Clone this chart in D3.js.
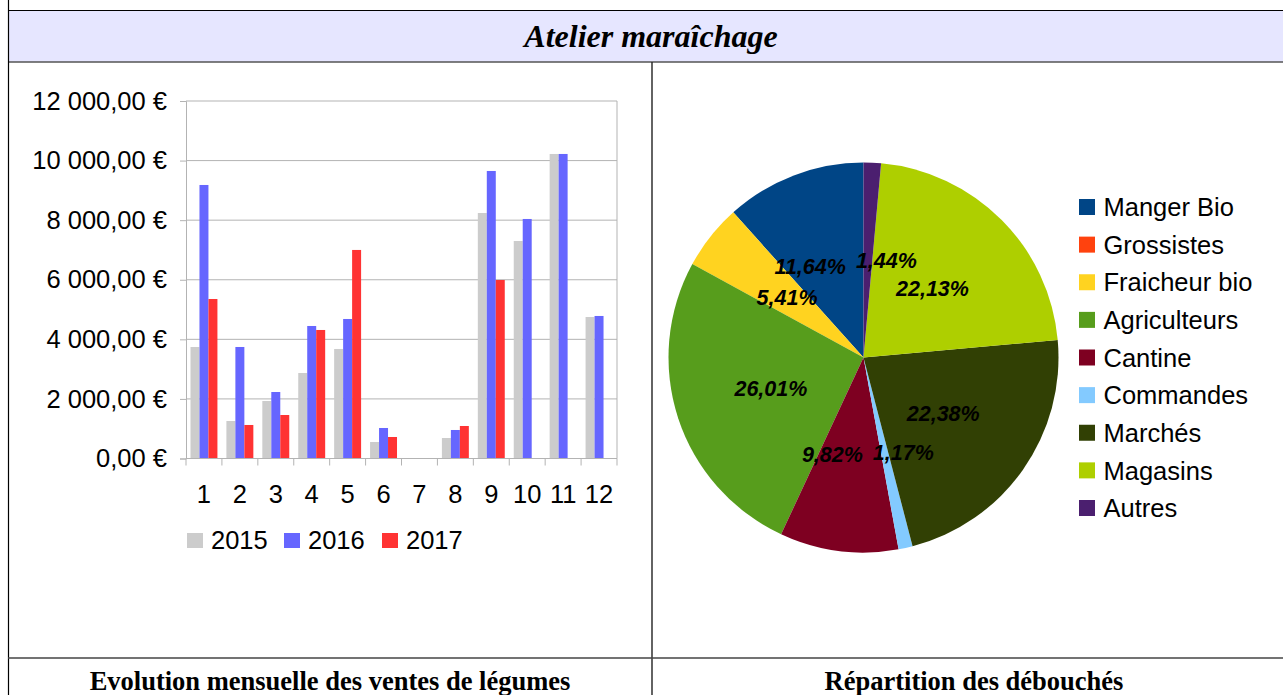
<!DOCTYPE html>
<html>
<head>
<meta charset="utf-8">
<script src="https://cdn.jsdelivr.net/npm/d3@7/dist/d3.min.js"></script>
<style>
    body { margin: 0; background: #fff; }
    svg text { font-family: "Liberation Sans", Arial, sans-serif; fill: #000; }
    svg text.serif { font-family: "Liberation Serif", "Times New Roman", serif; font-weight: bold; }
    .axis path, .axis line { stroke: #b3b3b3; }
    .grid line { stroke: #b3b3b3; }
</style>
</head>
<body>
<svg id="chart" width="1283" height="695"></svg>
<script>
    // data
    const months = [1, 2, 3, 4, 5, 6, 7, 8, 9, 10, 11, 12];
    const years = ["2015", "2016", "2017"];
    const sales2015 = [3743, 1259, 1930, 2870, 3676, 554, 0, 688, 8241, 7301, 10222, 4750];
    const sales2016 = [9181, 3743, 2232, 4448, 4683, 1024, 0, 957, 9651, 8040, 10222, 4784];
    const sales2017 = [5354, 1125, 1460, 4314, 7000, 722, 0, 1091, 5992, 0, 0, 0];
    const yTicks = [0, 2000, 4000, 6000, 8000, 10000, 12000];

    const outlets = ["Manger Bio", "Grossistes", "Fraicheur bio", "Agriculteurs", "Cantine",
                     "Commandes", "Marchés", "Magasins", "Autres"];
    const shares = [11.64, 0, 5.41, 26.01, 9.82, 1.17, 22.38, 22.13, 1.44];

    const titles = {
        main: "Atelier maraîchage",
        left: "Evolution mensuelle des ventes de légumes",
        right: "Répartition des débouchés"
    };

    const yearColors = ["#cccccc", "#6666ff", "#ff3333"];
    const outletColors = ["#004586", "#ff420e", "#ffd320", "#579d1c", "#7e0021",
                          "#83caff", "#314004", "#aecf00", "#4b1f6f"];

    const fr = d3.formatLocale({decimal: ",", thousands: "\u00a0", grouping: [3], currency: ["", " €"]});
    const euro = fr.format("$,.2f");
    const pct = v => fr.format(".2f")(v) + "%";

    const svg = d3.select("#chart");
    const labelSize = 25.5;

    // ---- table frame ----
    svg.append("rect").attr("x", 8).attr("y", 10).attr("width", 1290).attr("height", 52)
        .attr("fill", "#e6e6ff");
    svg.append("line").attr("x1", 8).attr("x2", 1283).attr("y1", 10.5).attr("y2", 10.5)
        .attr("stroke", "#000").attr("stroke-width", 1.2);
    svg.append("line").attr("x1", 8).attr("x2", 1283).attr("y1", 62).attr("y2", 62)
        .attr("stroke", "#555").attr("stroke-width", 1.6);
    svg.append("line").attr("x1", 8.5).attr("x2", 8.5).attr("y1", 0).attr("y2", 695)
        .attr("stroke", "#000").attr("stroke-width", 1.2);
    svg.append("line").attr("x1", 652).attr("x2", 652).attr("y1", 62).attr("y2", 695)
        .attr("stroke", "#222").attr("stroke-width", 1.4);
    svg.append("line").attr("x1", 8).attr("x2", 1283).attr("y1", 658).attr("y2", 658)
        .attr("stroke", "#444").attr("stroke-width", 1.6);

    svg.append("text").attr("class", "serif").attr("x", 651).attr("y", 47)
        .attr("text-anchor", "middle").attr("font-size", 32).attr("font-style", "italic")
        .text(titles.main);
    svg.append("text").attr("class", "serif").attr("x", 330).attr("y", 690)
        .attr("text-anchor", "middle").attr("font-size", 26.5).text(titles.left);
    svg.append("text").attr("class", "serif").attr("x", 974).attr("y", 690)
        .attr("text-anchor", "middle").attr("font-size", 26.5).text(titles.right);

    // ---- bar chart ----
    const plot = {left: 186, right: 617, top: 101, bottom: 458.5};
    const x0 = d3.scaleBand().domain(months).range([plot.left, plot.right]).padding(0);
    const x1 = d3.scaleBand().domain(years).range([0, x0.bandwidth()]).paddingInner(0).paddingOuter(0.5);
    const y = d3.scaleLinear().domain([0, 12000]).range([plot.bottom, plot.top]);
    const series = [sales2015, sales2016, sales2017];

    const bars = svg.append("g");

    bars.append("g").attr("class", "grid")
        .selectAll("line").data(yTicks).join("line")
        .attr("x1", plot.left).attr("x2", plot.right)
        .attr("y1", d => y(d)).attr("y2", d => y(d));

    bars.append("line").attr("x1", plot.right).attr("x2", plot.right)
        .attr("y1", plot.top).attr("y2", plot.bottom).attr("stroke", "#b3b3b3");

    const yAxis = bars.append("g").attr("class", "axis")
        .attr("transform", `translate(${plot.left},0)`)
        .call(d3.axisLeft(y).tickValues(yTicks).tickFormat(euro).tickSize(6).tickPadding(13));
    yAxis.selectAll("text").attr("font-size", labelSize).attr("fill", "#000");

    bars.append("g").selectAll("g").data(months).join("g")
        .attr("transform", d => `translate(${x0(d)},0)`)
        .selectAll("rect")
        .data((m, i) => years.map((yr, k) => ({year: yr, k: k, value: series[k][i]})))
        .join("rect")
        .attr("x", d => x1(d.year))
        .attr("width", x1.bandwidth())
        .attr("y", d => y(d.value))
        .attr("height", d => y(0) - y(d.value))
        .attr("fill", d => yearColors[d.k]);

    const xAxis = bars.append("g").attr("class", "axis")
        .attr("transform", `translate(0,${plot.bottom})`)
        .call(d3.axisBottom(x0).tickSize(0).tickPadding(26));
    xAxis.selectAll("text").attr("font-size", labelSize).attr("fill", "#000");
    xAxis.select(".domain").attr("d", `M${plot.left},0H${plot.right}`);
    xAxis.selectAll("line.sep").data(months.concat([null])).join("line")
        .attr("class", "sep")
        .attr("x1", (d, i) => i < months.length ? x0(d) : plot.right)
        .attr("x2", (d, i) => i < months.length ? x0(d) : plot.right)
        .attr("y1", 0).attr("y2", 7);

    const barLegend = svg.append("g").attr("transform", "translate(187,533)");
    const legendX = d3.scaleOrdinal().domain(years).range([0, 97, 195]);
    const bl = barLegend.selectAll("g").data(years).join("g")
        .attr("transform", d => `translate(${legendX(d)},0)`);
    bl.append("rect").attr("width", 16).attr("height", 15).attr("fill", (d, i) => yearColors[i]);
    bl.append("text").attr("x", 24).attr("y", 16).attr("font-size", labelSize).text(d => d);

    // ---- pie chart ----
    const cx = 863.5, cy = 357.5, r = 195;
    const pieData = outlets.map((name, i) => ({name: name, value: shares[i], color: outletColors[i]}));
    const pie = d3.pie().sort(null).value(d => d.value).startAngle(0).endAngle(-2 * Math.PI);
    const arcs = pie(pieData);
    const arc = d3.arc().innerRadius(0).outerRadius(r);
    const labelArc = d3.arc().innerRadius(r * 0.5).outerRadius(r * 0.5);

    const pieG = svg.append("g").attr("transform", `translate(${cx},${cy})`);
    pieG.selectAll("path").data(arcs.filter(a => a.data.value > 0)).join("path")
        .attr("d", arc).attr("fill", d => d.data.color);

    const labels = pieG.selectAll("text").data(arcs.filter(a => a.data.value > 0)).join("text")
        .attr("text-anchor", "middle").attr("dy", "0.36em")
        .attr("font-size", 21.5).attr("font-weight", "bold").attr("font-style", "italic")
        .text(d => pct(d.data.value));

    // place at half radius, then push apart horizontally where labels collide
    const boxes = [];
    labels.each(function(d) {
        const c = labelArc.centroid(d);
        boxes.push({node: this, x: c[0], y: c[1], w: this.getComputedTextLength(), h: 20});
    });
    for (let iter = 0; iter < 10; iter++) {
        for (let i = 0; i < boxes.length; i++) {
            for (let j = i + 1; j < boxes.length; j++) {
                const a = boxes[i], b = boxes[j];
                if (Math.abs(a.y - b.y) >= (a.h + b.h) / 2) continue;
                const overlap = (a.w + b.w) / 2 - Math.abs(a.x - b.x);
                if (overlap <= 0) continue;
                const shift = (overlap + 10) / 2;
                if (a.x < b.x) { a.x -= shift; b.x += shift; } else { a.x += shift; b.x -= shift; }
            }
        }
    }
    boxes.forEach(b => d3.select(b.node).attr("x", b.x).attr("y", b.y));

    const pieLegend = svg.append("g").attr("transform", "translate(1079,0)");
    const legendY = d3.scalePoint().domain(outlets).range([207, 508]);
    const pl = pieLegend.selectAll("g").data(pieData).join("g")
        .attr("transform", d => `translate(0,${legendY(d.name)})`);
    pl.append("rect").attr("y", -8).attr("width", 16).attr("height", 16).attr("fill", d => d.color);
    pl.append("text").attr("x", 24.5).attr("dy", "0.36em").attr("font-size", labelSize).text(d => d.name);
</script>
</body>
</html>
